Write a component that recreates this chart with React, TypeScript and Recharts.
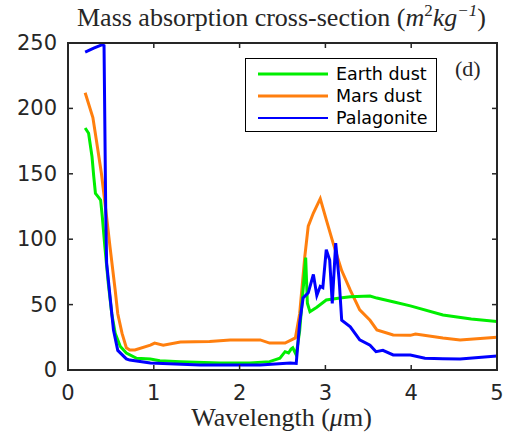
import { Line, LineChart, XAxis, YAxis } from "recharts";

const earthX = [0.2, 0.24, 0.28, 0.3, 0.32, 0.35, 0.38, 0.4, 0.43, 0.47, 0.51, 0.55, 0.61, 0.68, 0.8, 0.96, 1.07, 1.31, 1.77, 2.12, 2.35, 2.47, 2.53, 2.57, 2.6, 2.62, 2.66, 2.7, 2.75, 2.77, 2.79, 2.82, 2.9, 3.01, 3.17, 3.29, 3.52, 3.6, 3.8, 3.99, 4.37, 4.7, 5.0];
const earthY = [185, 181, 163, 148, 135, 132.5, 130, 117, 94, 66, 43, 28, 18, 13, 9, 8.4, 7, 6.4, 5.3, 5.3, 6.4, 9, 14, 13, 16, 17, 11.5, 30, 69, 86, 51, 44.6, 48, 53.5, 55, 56, 56.6, 55, 52, 49, 42, 39, 37];

const marsX = [0.2, 0.29, 0.33, 0.39, 0.45, 0.49, 0.55, 0.58, 0.63, 0.68, 0.72, 0.78, 0.96, 1.01, 1.11, 1.31, 1.65, 1.89, 2.24, 2.35, 2.53, 2.65, 2.7, 2.76, 2.8, 2.86, 2.94, 3.01, 3.09, 3.19, 3.29, 3.4, 3.52, 3.6, 3.79, 3.99, 4.05, 4.37, 4.57, 5.0];
const marsY = [212, 193, 176, 150, 117, 94, 61, 43, 28, 17, 15.3, 15.3, 19, 20.6, 19, 21.4, 21.7, 23, 23, 20.6, 20.6, 24.5, 43, 86.7, 110, 120, 131, 115, 97, 76, 61, 46, 38, 30.6, 26.8, 26.5, 27.5, 24.5, 23, 25];

const palaX = [0.2, 0.3, 0.4, 0.42, 0.44, 0.45, 0.49, 0.53, 0.58, 0.68, 0.72, 0.96, 1.54, 2.24, 2.59, 2.66, 2.7, 2.74, 2.8, 2.86, 2.9, 2.94, 2.97, 3.01, 3.05, 3.08, 3.12, 3.16, 3.19, 3.29, 3.4, 3.52, 3.59, 3.67, 3.79, 3.99, 4.16, 4.37, 4.57, 5.0];
const palaY = [243, 246, 248.7, 248, 120, 82, 56, 30.6, 15, 8.5, 7.6, 5.3, 3.8, 3.8, 5.3, 5, 36, 55, 59, 73, 57, 64, 63, 92, 84, 51, 97, 69, 38, 33, 23, 19, 14, 15, 11.5, 11.5, 9, 8.6, 8.4, 10.7];

const xTicks = [0, 1, 2, 3, 4, 5];
const yTicks = [0, 50, 100, 150, 200, 250];

const seriesNames = ["Earth dust", "Mars dust", "Palagonite"];
const seriesColors = ["#00ee00", "#ff7f0e", "#0000ff"];

const toPoints = (xs: number[], ys: number[]) => xs.map((x, i) => ({ x, y: ys[i] }));

const earthData = toPoints(earthX, earthY);
const marsData = toPoints(marsX, marsY);
const palaData = toPoints(palaX, palaY);

const W = 507;
const H = 439;
const M = { top: 43, right: 10, bottom: 39, left: 0 };
const Y_AXIS_W = 68;
const X_AXIS_H = 30;
const PLOT_W = W - M.left - M.right - Y_AXIS_W;
const PLOT_H = H - M.top - M.bottom - X_AXIS_H;

const axisColor = "#262626";
const serif = "Liberation Serif";
const TICK_LEN = 5;
const X_GAP = 11;
const Y_GAP = 11;

// label plus inward tick marks on the bottom and top edges
function BottomTick(props: any) {
  const { x, y, payload } = props;
  const base = y - X_GAP;
  return (
    <g>
      <line x1={x} x2={x} y1={base} y2={base - TICK_LEN} stroke={axisColor} strokeWidth={1.5} />
      <line x1={x} x2={x} y1={base - PLOT_H} y2={base - PLOT_H + TICK_LEN} stroke={axisColor} strokeWidth={1.5} />
      <text x={x} y={y} dy={19} textAnchor="middle" fontFamily="DejaVu Sans" fontSize={21} fill={axisColor}>
        {payload.value}
      </text>
    </g>
  );
}

// label plus inward tick marks on the left and right edges
function LeftTick(props: any) {
  const { x, y, payload } = props;
  const base = x + Y_GAP;
  return (
    <g>
      <line x1={base} x2={base + TICK_LEN} y1={y} y2={y} stroke={axisColor} strokeWidth={1.5} />
      <line x1={base + PLOT_W} x2={base + PLOT_W - TICK_LEN} y1={y} y2={y} stroke={axisColor} strokeWidth={1.5} />
      <text x={x} y={y} dy={7} textAnchor="end" fontFamily="DejaVu Sans" fontSize={21} fill={axisColor}>
        {payload.value}
      </text>
    </g>
  );
}

function LegendBox() {
  return (
    <div
      style={{
        position: "absolute",
        left: 245,
        top: 58,
        width: 192,
        height: 74,
        border: "1.5px solid #000",
        background: "#fff",
        boxSizing: "border-box",
        fontFamily: "DejaVu Sans",
        fontSize: 17.5,
        color: "#000",
        paddingTop: 4,
        zIndex: 3,
      }}
    >
      {seriesNames.map((name, i) => (
        <div key={name} style={{ display: "flex", alignItems: "center", height: 22 }}>
          <svg width={90} height={10}>
            <line x1={12} x2={82} y1={5} y2={5} stroke={seriesColors[i]} strokeWidth={i === 2 ? 2 : 3} />
          </svg>
          <span>{name}</span>
        </div>
      ))}
    </div>
  );
}

export default function App() {
  return (
    <div style={{ position: "absolute", left: 0, top: 0, width: W, height: H, background: "#fff" }}>
      <div
        style={{
          position: "absolute",
          left: 0,
          width: W,
          top: 1,
          textAlign: "center",
          paddingLeft: 56,
          boxSizing: "border-box",
          fontFamily: serif,
          fontSize: 26,
          color: axisColor,
          whiteSpace: "nowrap",
          zIndex: 2,
        }}
      >
        Mass absorption cross-section (<i>m</i>
        <sup style={{ fontSize: 17 }}>2</sup>
        <i>kg</i>
        <sup style={{ fontSize: 17 }}>
          <i>−1</i>
        </sup>
        )
      </div>
      <div
        style={{
          position: "absolute",
          left: 0,
          width: W,
          top: 403,
          textAlign: "center",
          paddingLeft: 56,
          boxSizing: "border-box",
          fontFamily: serif,
          fontSize: 26,
          lineHeight: "30px",
          color: axisColor,
          zIndex: 2,
        }}
      >
        Wavelength (<i>μ</i>m)
      </div>
      <div
        style={{
          position: "absolute",
          left: 455,
          top: 56,
          fontFamily: serif,
          fontSize: 22,
          color: axisColor,
          zIndex: 2,
        }}
      >
        (d)
      </div>
      {/* plot frame */}
      <div
        style={{
          position: "absolute",
          left: M.left + Y_AXIS_W - 1,
          top: M.top - 1,
          width: PLOT_W + 2,
          height: PLOT_H + 2,
          border: `2px solid ${axisColor}`,
          boxSizing: "border-box",
          pointerEvents: "none",
          zIndex: 2,
        }}
      />
      <LegendBox />
      <LineChart width={W} height={H} margin={M}>
        <XAxis
          dataKey="x"
          type="number"
          domain={[0, 5]}
          ticks={xTicks}
          allowDataOverflow
          height={X_AXIS_H}
          tickSize={0}
          tickMargin={X_GAP}
          tickLine={false}
          tick={<BottomTick />}
          stroke={axisColor}
          strokeWidth={1.5}
        />
        <YAxis
          dataKey="y"
          type="number"
          domain={[0, 250]}
          ticks={yTicks}
          allowDataOverflow
          width={Y_AXIS_W}
          tickSize={0}
          tickMargin={Y_GAP}
          tickLine={false}
          tick={<LeftTick />}
          stroke={axisColor}
          strokeWidth={1.5}
        />
        <Line
          data={marsData}
          dataKey="y"
          name="Mars dust"
          stroke={seriesColors[1]}
          strokeWidth={3}
          dot={false}
          isAnimationActive={false}
        />
        <Line
          data={earthData}
          dataKey="y"
          name="Earth dust"
          stroke={seriesColors[0]}
          strokeWidth={3}
          dot={false}
          isAnimationActive={false}
        />
        <Line
          data={palaData}
          dataKey="y"
          name="Palagonite"
          stroke={seriesColors[2]}
          strokeWidth={3}
          dot={false}
          isAnimationActive={false}
        />
      </LineChart>
    </div>
  );
}
